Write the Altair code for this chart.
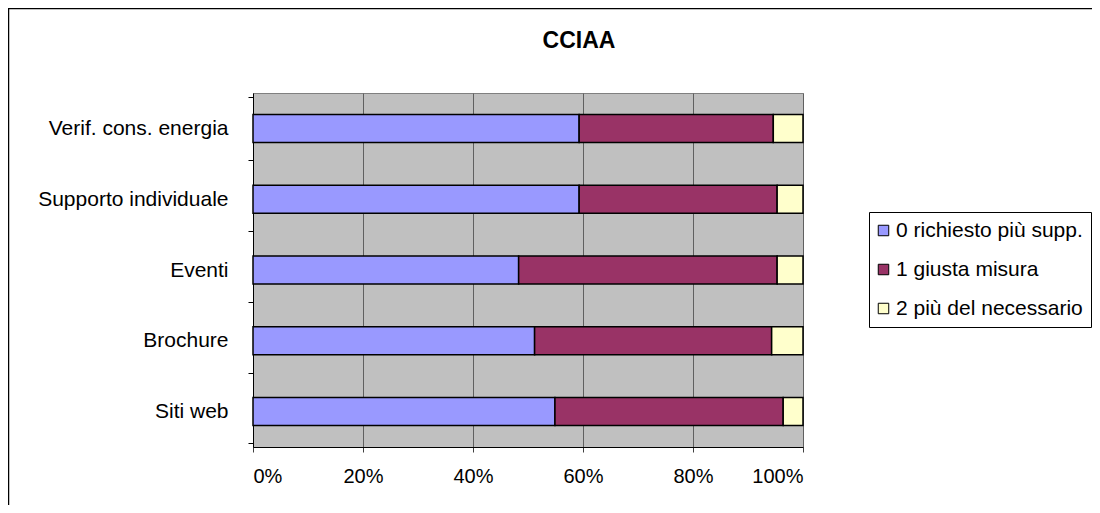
import altair as alt
import pandas as pd

categories = ["Verif. cons. energia", "Supporto individuale", "Eventi", "Brochure", "Siti web"]
series = ["0 richiesto più supp.", "1 giusta misura", "2 più del necessario"]
v0 = [59.3, 59.3, 48.3, 51.2, 54.9]
v1 = [35.3, 36.0, 47.0, 43.1, 41.5]
v2 = [5.4, 4.7, 4.7, 5.7, 3.6]
colors = ["#9999FF", "#993366", "#FFFFCC"]
title_text = "CCIAA"

rows = []
for i, c in enumerate(categories):
    for j, (s, vals) in enumerate(zip(series, [v0, v1, v2])):
        rows.append({"cat": c, "serie": s, "val": vals[i], "ord": j})
df = pd.DataFrame(rows)

FONT = "Liberation Sans"

bars = alt.Chart(df).mark_bar(size=28, stroke="black", strokeWidth=1.5).encode(
    y=alt.Y("cat:N", sort=categories, title=None,
            axis=alt.Axis(tickBand="extent", labelFontSize=21, labelFont=FONT,
                          labelColor="black", labelPadding=20, labelLimit=300,
                          tickSize=5, tickColor="black", domainColor="black",
                          grid=False)),
    x=alt.X("val:Q", stack="normalize", title=None,
            scale=alt.Scale(domain=[0, 1], nice=False),
            axis=alt.Axis(format=".0%", values=[0, 0.2, 0.4, 0.6, 0.8, 1.0],
                          labelFontSize=20, labelFont=FONT, labelColor="black",
                          labelPadding=14, tickSize=5, tickColor="#404040",
                          domainColor="black", grid=True, gridColor="#606060",
                          gridWidth=1)),
    color=alt.Color("serie:N", sort=series,
                    scale=alt.Scale(domain=series, range=colors),
                    legend=alt.Legend(title=None, orient="none", legendX=616, legendY=119,
                                      direction="vertical", symbolType="square",
                                      symbolSize=110, symbolStrokeColor="black",
                                      symbolStrokeWidth=1, symbolOffset=-4,
                                      labelFontSize=21,
                                      labelFont=FONT, labelColor="black",
                                      labelLimit=300, padding=8, rowPadding=17,
                                      labelOffset=2, strokeColor="black",
                                      fillColor="white")),
    order=alt.Order("ord:Q"),
)

frame_data = alt.Data(values=[{"a": 1}])
frame = alt.Chart(frame_data).mark_rect(
    fill="transparent", stroke="black", strokeWidth=1.5
).encode(x=alt.value(-244.5), x2=alt.value(950),
         y=alt.value(-84.5), y2=alt.value(520))
title = alt.Chart(frame_data).mark_text(
    text=title_text, font=FONT, fontSize=23, fontWeight="bold", color="black",
    align="center", baseline="alphabetic"
).encode(x=alt.value(326), y=alt.value(-45))

chart = alt.layer(frame, bars, title).properties(
    width=550, height=354,
    autosize=alt.AutoSizeParams(type="none"),
    padding={"left": 245, "top": 85, "right": 289, "bottom": 58},
).configure(
    background="white"
).configure_view(
    fill="#C0C0C0", stroke="#808080", strokeWidth=1
)

chart.save("out.html", embed_options={"renderer": "svg", "actions": False})
